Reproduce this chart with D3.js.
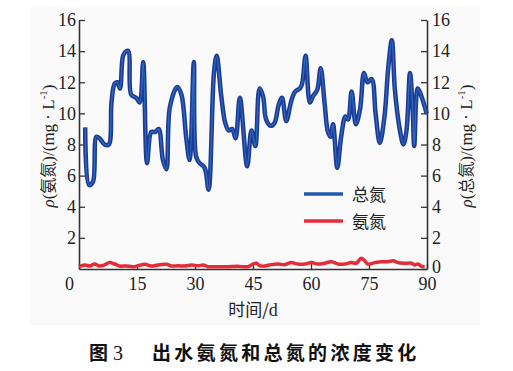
<!DOCTYPE html>
<html>
<head>
<meta charset="utf-8">
<script src="https://cdn.jsdelivr.net/npm/d3@7"></script>
<style>
body{margin:0;background:#fff;}
svg{display:block;}
</style>
</head>
<body>
<div id="chart"></div>
<script>
// 总氮 (day, mg/L)
var tnDays = [1.6,2.6,3.6,4.5,5.3,6.6,7.7,8.4,9.2,9.9,10.6,11.4,12.2,12.8,13.5,14.8,15.7,16.6,17.6,18.7,19.7,20.6,21.7,22.6,23.5,25.4,26.5,27.7,28.6,29.7,30.3,31.2,32.5,33.5,34.9,35.6,36.8,37.8,38.7,39.6,40.5,41.6,43.5,44.6,45.6,46.7,47.6,48.4,49.6,50.6,51.6,52.5,53.6,54.9,55.9,57.1,57.7,58.6,59.7,60.5,61.6,62.5,63.5,64.4,65.1,65.7,66.8,67.8,68.9,69.6,70.5,71.6,72.7,73.7,74.6,75.7,76.7,77.8,79.0,80.0,80.9,81.7,83.0,83.9,84.7,85.6,86.3,86.7,87.6,88.4,89.9];
var tnValues = [9.1,5.4,5.6,8.5,8.4,8.0,8.0,10.7,11.9,12.0,11.6,13.7,14.0,14.0,11.2,11.0,10.7,13.3,6.8,8.8,8.8,9.0,7.0,6.4,10.4,11.7,11.2,8.5,7.0,13.3,7.2,6.8,6.5,5.1,12.6,13.7,11.1,9.4,8.9,9.0,8.4,11.0,6.6,8.9,7.9,11.6,11.1,9.6,9.2,9.4,10.5,11.0,9.5,10.8,11.4,11.6,11.9,13.7,10.7,11.1,11.5,12.9,10.7,8.8,8.5,9.3,6.5,8.5,9.8,9.6,11.4,9.3,10.3,12.6,12.0,12.2,10.0,8.1,9.8,13.0,14.7,11.5,8.9,8.0,8.9,12.6,10.2,7.9,11.6,11.2,10.0];
// 氨氮
var anDays = [0,1.5,2.8,4.0,5.3,6.6,7.9,9.2,10.5,12.2,14.0,15.3,17.0,18.7,20.4,22.6,23.9,25.6,27.3,29.1,30.8,32.1,33.4,36.0,38.5,41.1,43.7,45.0,45.9,46.7,48.0,49.7,51.5,53.2,54.9,56.6,58.4,60.1,61.8,63.5,65.3,67.0,68.7,70.4,71.7,73.0,73.9,74.7,76.5,78.2,79.9,81.2,82.5,84.2,86.0,86.8,87.7,88.5,89.4];
var anValues = [0.15,0.26,0.19,0.32,0.19,0.26,0.41,0.32,0.19,0.19,0.15,0.21,0.30,0.19,0.26,0.30,0.19,0.21,0.19,0.26,0.21,0.26,0.15,0.15,0.15,0.17,0.15,0.32,0.37,0.21,0.19,0.28,0.32,0.28,0.41,0.32,0.32,0.41,0.32,0.37,0.47,0.32,0.32,0.41,0.37,0.69,0.53,0.32,0.41,0.47,0.47,0.53,0.41,0.37,0.37,0.26,0.32,0.19,0.15];

var xTicks = [0,15,30,45,60,75,90];
var yTicksLeft = [2,4,6,8,10,12,14,16];
var yTicksRight = [0,2,4,6,8,10,12,14,16];
var legendItems = [{name:"总氮",color:"#1f58b0"},{name:"氨氮",color:"#e42b3a"}];

var W = 513, H = 371;
var svg = d3.select("#chart").append("svg").attr("width",W).attr("height",H);

svg.append("rect").attr("x",30).attr("y",7).attr("width",450).attr("height",318).attr("fill","#fafafa");

var x = d3.scaleLinear().domain([0,90]).range([79,427]);
var y = d3.scaleLinear().domain([0,16]).range([269,20]);

var line = d3.line().x(function(d){return x(d[0]);}).y(function(d){return y(d[1]);}).curve(d3.curveCatmullRom.alpha(0.5));

var tn = tnDays.map(function(d,i){return [d,tnValues[i]];});
var an = anDays.map(function(d,i){return [d,anValues[i]];});

// axes
var gl = svg.append("g").attr("transform","translate(79,0)")
  .call(d3.axisLeft(y).tickValues(yTicksLeft).tickSizeInner(-6).tickSizeOuter(0).tickPadding(3));
var gr = svg.append("g").attr("transform","translate(427,0)")
  .call(d3.axisRight(y).tickValues(yTicksRight).tickSizeInner(-6).tickSizeOuter(0).tickPadding(5));
var gb = svg.append("g").attr("transform","translate(0,269)")
  .call(d3.axisBottom(x).tickValues(xTicks).tickSizeInner(-5).tickSizeOuter(0).tickPadding(8));
gb.selectAll(".tick text").filter(function(d){return d===0;}).attr("dx",-10);
gr.selectAll(".tick text").filter(function(d){return d===0;}).attr("dy","0.2em");

[gl,gr,gb].forEach(function(g){
  g.attr("font-family","'Liberation Serif','Times New Roman',serif").attr("font-size",18);
  g.selectAll(".tick text").attr("fill","#222");
  g.select(".domain").attr("stroke","#333").attr("stroke-width",1.6);
  g.selectAll(".tick line").attr("stroke","#333").attr("stroke-width",1.3);
});

// lines
svg.append("path").datum(tn).attr("d",line).attr("fill","none")
  .attr("stroke","#1d3994").attr("stroke-width",4.5).attr("stroke-linejoin","round");
svg.append("path").datum(tn).attr("d",line).attr("fill","none")
  .attr("stroke","#2f78cc").attr("stroke-width",1.3).attr("stroke-opacity",0.8).attr("stroke-linejoin","round");
svg.append("path").datum(an).attr("d",line).attr("fill","none")
  .attr("stroke","#e42b3a").attr("stroke-width",3.5).attr("stroke-linejoin","round");

// legend
var lg = svg.append("g").selectAll("g").data(legendItems).enter().append("g")
  .attr("transform",function(d,i){return "translate(304,"+(194+i*27)+")";});
lg.append("line").attr("x1",0).attr("x2",39).attr("y1",0).attr("y2",0)
  .attr("stroke",function(d){return d.color;}).attr("stroke-width",3.5);
lg.append("text").attr("x",48).attr("y",6.5).text(function(d){return d.name;})
  .attr("font-family","'Noto Sans CJK SC',sans-serif").attr("font-size",17).attr("fill","#222");

// axis titles
function yTitle(cx, name){
  var t = svg.append("text").attr("transform","translate("+cx+",146) rotate(-90)")
    .attr("text-anchor","middle").attr("font-size",17).attr("fill","#222")
    .attr("font-family","'Liberation Serif',serif");
  t.append("tspan").attr("font-style","italic").text("ρ");
  t.append("tspan").text("(");
  t.append("tspan").attr("font-family","'Noto Sans CJK SC',sans-serif").attr("font-size",16).text(name);
  t.append("tspan").text(")/(mg · L");
  t.append("tspan").attr("font-size",11).attr("dy",-7).text("-1");
  t.append("tspan").attr("dy",7).text(")");
}
yTitle(54, "氨氮");
yTitle(472, "总氮");

svg.append("text").attr("x",253).attr("y",316).attr("text-anchor","middle")
  .attr("font-size",17).attr("fill","#222").attr("font-family","'Noto Sans CJK SC',sans-serif")
  .text("时间/").append("tspan").attr("font-family","'Liberation Serif',serif").attr("font-size",18).text("d");

// caption
var cap = svg.append("text").attr("y",360).attr("font-weight","bold").attr("fill","#111")
  .attr("font-family","'Noto Sans CJK SC',sans-serif").attr("font-size",19);
cap.append("tspan").attr("x",89).text("图");
cap.append("tspan").attr("font-family","'Liberation Serif',serif").attr("font-weight","normal").attr("font-size",20).text(" 3");
cap.append("tspan").attr("x",152).attr("letter-spacing",3.3).text("出水氨氮和总氮的浓度变化");
</script>
</body>
</html>
